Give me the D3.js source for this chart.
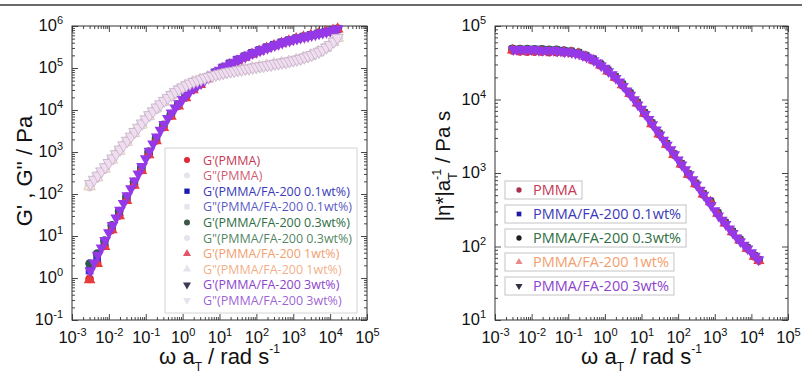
<!DOCTYPE html>
<html>
<head>
<meta charset="utf-8">
<script src="https://d3js.org/d3.v7.min.js"></script>
<style>
  body { margin: 0; background: #fff; }
  svg { display: block; font-family: "Liberation Sans", Arial, sans-serif; }
</style>
</head>
<body>
<script>
// reduced angular frequency  ω a_T  (rad/s)
// samples PMMA .. 1wt% were read on this grid
const omega = [0.0030, 0.0048, 0.0076, 0.012, 0.019, 0.030, 0.048, 0.076, 0.12, 0.19,
  0.30, 0.48, 0.76, 1.2, 1.9, 3.0, 4.8, 7.6, 12, 19,
  30, 48, 76, 120, 190, 300, 480, 760, 1200, 1900,
  3000, 4800, 7600, 12000, 16000];
// the 3wt% sample (drawn on top) was read more densely
const omegaFA3 = [0.00316, 0.00398, 0.00501, 0.00631, 0.00794, 0.0100, 0.0126, 0.0158, 0.0200, 0.0251,
  0.0316, 0.0398, 0.0501, 0.0631, 0.0794, 0.100, 0.126, 0.158, 0.200, 0.251,
  0.316, 0.398, 0.501, 0.631, 0.794, 1.00, 1.26, 1.58, 2.00, 2.51,
  3.16, 3.98, 5.01, 6.31, 7.94, 10.0, 12.6, 15.8, 20.0, 25.1,
  31.6, 39.8, 50.1, 63.1, 79.4, 100, 126, 158, 200, 251,
  316, 398, 501, 631, 794, 1000, 1260, 1580, 2000, 2510,
  3160, 3980, 5010, 6310, 7940, 10000, 12600, 15800];

const sampleNames = ["PMMA", "PMMA/FA-200 0.1wt%", "PMMA/FA-200 0.3wt%", "PMMA/FA-200 1wt%", "PMMA/FA-200 3wt%"];

// storage modulus G' (Pa)
const gpPMMA = [0.95, 2.3, 5.8, 14, 31, 72, 165, 370, 880, 1900, 3900, 7300, 12600, 20000, 30500, 40500, 56000, 74000, 95000, 120000,
  148000, 178000, 214000, 252000, 296000, 340000, 390000, 440000, 495000, 545000, 598000, 655000, 718000, 788000, 845000];
const gpFA01 = [1.5, 3.1, 7.0, 16.5, 36, 81, 186, 410, 980, 2050, 4200, 7800, 13400, 21000, 32500, 43000, 60000, 79000, 103000, 129000,
  158000, 190000, 228000, 267000, 312000, 357000, 408000, 457000, 510000, 560000, 612000, 670000, 733000, 800000, 860000];
const gpFA03 = [2.2, 3.8, 7.8, 18, 39, 86, 195, 430, 1020, 2150, 4400, 8000, 13700, 21500, 32500, 43000, 59000, 78000, 101000, 126000,
  155000, 186000, 223000, 262000, 306000, 350000, 402000, 452000, 505000, 555000, 608000, 666000, 729000, 798000, 855000];
const gpFA1 = [0.9, 2.2, 5.6, 14, 30, 70, 160, 360, 860, 1850, 3800, 7100, 12300, 19500, 30000, 40000, 55500, 73000, 94000, 119000,
  147000, 177000, 213000, 251000, 295000, 339000, 389000, 439000, 494000, 544000, 597000, 654000, 717000, 787000, 843000];
const gpFA3 = [1.5, 2.3, 3.5, 5.2, 7.9, 12, 18, 27, 41, 60,
  91, 135, 204, 302, 457, 692, 1050, 1550, 2290, 3310,
  4570, 6310, 8510, 11200, 14100, 17800, 22400, 27500, 33100, 38000,
  43700, 51300, 58900, 67600, 77600, 89100, 100000, 112000, 126000, 138000,
  155000, 170000, 186000, 204000, 224000, 240000, 263000, 282000, 302000, 324000,
  347000, 372000, 398000, 427000, 447000, 479000, 501000, 525000, 550000, 575000,
  603000, 631000, 661000, 692000, 724000, 759000, 794000, 851000];

// loss modulus G'' (Pa)
const gppPMMA = [150, 245, 395, 650, 1060, 1730, 2810, 4480, 7120, 10850, 15600, 22200, 30000, 37800, 45500, 52300, 60000, 67300, 73800, 81000,
  86800, 93000, 99500, 106500, 114500, 122500, 131500, 140500, 154000, 173000, 199000, 239000, 300000, 414000, 520000];
const gppFA01 = [160, 258, 410, 668, 1090, 1770, 2870, 4560, 7230, 11000, 15800, 22400, 30300, 38200, 46000, 52800, 60600, 68000, 74600, 81800,
  87700, 94000, 100800, 108000, 116000, 124000, 133000, 142000, 156000, 175000, 201000, 241000, 304000, 420000, 528000];
const gppFA03 = [170, 268, 422, 682, 1110, 1790, 2900, 4590, 7260, 11050, 15850, 22450, 30250, 38100, 45800, 52600, 60400, 67700, 74200, 81400,
  87200, 93400, 100200, 107200, 115200, 123200, 132200, 141200, 155200, 174200, 200500, 240500, 302500, 418000, 526000];
const gppFA1 = [152, 248, 398, 655, 1065, 1735, 2820, 4490, 7130, 10870, 15620, 22220, 30020, 37820, 45520, 52320, 60020, 67320, 73820, 81020,
  86820, 93020, 99600, 106600, 114600, 122600, 131600, 140600, 154200, 173200, 199200, 239200, 300500, 415000, 521000];
const gppFA3 = [174, 219, 275, 347, 437, 550, 708, 891, 1150, 1450,
  1860, 2340, 3020, 3800, 4790, 6030, 7590, 9330, 11500, 13800,
  16600, 19500, 22900, 26900, 30900, 34700, 38900, 42700, 46800, 50100,
  53700, 57500, 61700, 64600, 69200, 72400, 75900, 79400, 83200, 85100,
  89100, 91200, 95500, 97700, 102000, 105000, 110000, 112000, 117000, 120000,
  126000, 129000, 135000, 138000, 145000, 151000, 158000, 166000, 178000, 191000,
  204000, 224000, 245000, 269000, 309000, 355000, 427000, 525000];

// complex viscosity |η*| a_T^-1 (Pa s)
const etaPMMA = [46500, 45000, 44500, 44500, 44500, 44000, 44000, 43500, 43000, 41500, 38000, 34000, 29000, 24200, 19800, 15600, 11900, 8850, 6420, 4650,
  3370, 2440, 1770, 1310, 950, 705, 511, 403, 281, 208, 157, 122, 94, 73, 64];
const etaFA01 = [48500, 48300, 48200, 48200, 48100, 47300, 47200, 46200, 45200, 43300, 39500, 35300, 30000, 25000, 20400, 16100, 12200, 9080, 6580, 4770,
  3450, 2500, 1810, 1340, 970, 720, 521, 410, 286, 212, 160, 124, 96, 75, 66];
const etaFA03 = [49000, 48800, 48600, 48500, 48400, 47700, 47600, 46600, 45600, 43700, 39900, 35700, 30400, 25300, 20600, 16300, 12400, 9200, 6650, 4820,
  3490, 2520, 1830, 1350, 980, 725, 525, 412, 288, 213, 161, 125, 97, 76, 66];
const etaFA1 = [46800, 45500, 45000, 45000, 45000, 44500, 44500, 44000, 43500, 41800, 38300, 34200, 29200, 24300, 19900, 15700, 11950, 8880, 6440, 4660,
  3380, 2445, 1775, 1315, 952, 706, 512, 404, 281, 208, 157, 122, 94, 73, 64];
const etaFA3 = [47900, 47900, 47900, 47900, 47900, 47900, 47900, 46800, 46800, 46800,
  46800, 46800, 45700, 45700, 44700, 44700, 43700, 42700, 41700, 39800,
  38000, 36300, 33900, 31600, 28800, 26900, 24000, 21900, 19500, 17400,
  15100, 13200, 11500, 10000, 8510, 7410, 6310, 5370, 4570, 3890,
  3310, 2820, 2400, 2090, 1780, 1510, 1290, 1120, 955, 813,
  692, 589, 501, 427, 363, 309, 263, 229, 200, 174,
  151, 132, 117, 105, 93, 83, 74, 66];

// tick exponents (decades)
const xTickExp = [-3, -2, -1, 0, 1, 2, 3, 4, 5];
const yTickExpL = [-1, 0, 1, 2, 3, 4, 5, 6];
const yTickExpR = [1, 2, 3, 4, 5];

const omegaAll = [omega, omega, omega, omega, omegaFA3];
const gpAll = [gpPMMA, gpFA01, gpFA03, gpFA1, gpFA3];
const gppAll = [gppPMMA, gppFA01, gppFA03, gppFA1, gppFA3];
const etaAll = [etaPMMA, etaFA01, etaFA03, etaFA1, etaFA3];

// look of each sample
const look = [
  { shape: d3.symbolCircle, rot: 0, mark: "#e02a2a", leg: "#e0283a", small: "#a83050", text: "#c63a55", faint: "#f4e2ea", edge: "#d6bcc8" },
  { shape: d3.symbolSquare, rot: 0, mark: "#3434d0", leg: "#1a1ab0", small: "#1c1ca8", text: "#3a3ab8", faint: "#e6e4f6", edge: "#c4c0dc" },
  { shape: d3.symbolCircle, rot: 0, mark: "#2c5a4c", leg: "#3c5648", small: "#1e1e1e", text: "#2f6e44", faint: "#e6eee8", edge: "#c2cfc6" },
  { shape: d3.symbolTriangle, rot: 0, mark: "#e83c3c", leg: "#e05868", small: "#e88a8a", text: "#f2a070", faint: "#f6e6e0", edge: "#dcc4bc" },
  { shape: d3.symbolTriangle, rot: 180, mark: "#9438e8", leg: "#3a3a50", small: "#303048", text: "#8c44cc", faint: "#f0def0", edge: "#c4b0c8" }
];

const W = 802, H = 373;
const svg = d3.select("body").append("svg").attr("width", W).attr("height", H);

svg.append("line").attr("x1", 0).attr("x2", W).attr("y1", 5).attr("y2", 5)
  .attr("stroke", "#6a6a6a").attr("stroke-width", 2);

const xL = d3.scaleLog().domain([1e-3, 1e5]).range([72, 367]);
const yL = d3.scaleLog().domain([1e-1, 1e6]).range([320, 26]);
const xR = d3.scaleLog().domain([1e-3, 1e5]).range([495, 788]);
const yR = d3.scaleLog().domain([1e1, 1e5]).range([320, 26]);

function isDecade(v) {
  const e = Math.log10(v);
  return Math.abs(e - Math.round(e)) < 1e-9;
}

function supLabels(sel) {
  sel.selectAll(".tick text").each(function (d) {
    const t = d3.select(this).text(null);
    t.append("tspan").text("10");
    t.append("tspan").attr("font-size", 11).attr("dy", -7).text(Math.round(Math.log10(d)));
  });
}

function frame(x, y, yExp) {
  const [x0, x1] = x.range();
  const [y0, y1] = y.range();
  const xMinor = x.ticks().filter(v => !isDecade(v));
  const yMinor = y.ticks().filter(v => !isDecade(v));
  const xMajor = xTickExp.map(e => Math.pow(10, e));
  const yMajor = yExp.map(e => Math.pow(10, e));
  const g = svg.append("g").attr("color", "#333");

  const put = (axis, tr) => {
    const a = g.append("g").attr("transform", tr).call(axis);
    a.select(".domain").remove();
    a.selectAll(".tick line").attr("stroke-width", 0.9);
    return a;
  };
  // minor ticks, inward on all four sides
  put(d3.axisBottom(x).tickValues(xMinor).tickSize(-3).tickFormat(""), `translate(0,${y0})`);
  put(d3.axisTop(x).tickValues(xMinor).tickSize(-3).tickFormat(""), `translate(0,${y1})`);
  put(d3.axisLeft(y).tickValues(yMinor).tickSize(-3).tickFormat(""), `translate(${x0},0)`);
  put(d3.axisRight(y).tickValues(yMinor).tickSize(-3).tickFormat(""), `translate(${x1},0)`);
  // major ticks
  const bx = put(d3.axisBottom(x).tickValues(xMajor).tickSize(-6).tickPadding(11), `translate(0,${y0})`);
  put(d3.axisTop(x).tickValues(xMajor).tickSize(-6).tickFormat(""), `translate(0,${y1})`);
  const ly = put(d3.axisLeft(y).tickValues(yMajor).tickSize(-6).tickPadding(9), `translate(${x0},0)`);
  put(d3.axisRight(y).tickValues(yMajor).tickSize(-6).tickFormat(""), `translate(${x1},0)`);

  [bx, ly].forEach(a => a.attr("font-size", 16.5).attr("font-family", "Liberation Sans, Arial, sans-serif")
    .selectAll(".tick text").attr("fill", "#111"));
  ly.selectAll(".tick text").attr("dy", "0.3em");
  supLabels(bx);
  supLabels(ly);

  g.append("rect").attr("x", x0).attr("y", y1).attr("width", x1 - x0).attr("height", y0 - y1)
    .attr("fill", "none").attr("stroke", "#333").attr("stroke-width", 1);
}

function marks(x, y, ws, vals, lk, size, fill, stroke) {
  const sym = d3.symbol().type(lk.shape).size(size);
  svg.append("g").selectAll("path")
    .data(ws.map((w, i) => [w, vals[i]]))
    .join("path")
    .attr("d", sym)
    .attr("transform", d => `translate(${x(d[0])},${y(d[1])}) rotate(${lk.rot})`)
    .attr("fill", fill)
    .attr("stroke", stroke)
    .attr("stroke-width", stroke === "none" ? 0 : 0.8);
}

// ---- left panel: G', G''
frame(xL, yL, yTickExpL);
sampleNames.forEach((n, i) => {
  marks(xL, yL, omegaAll[i], gpAll[i], look[i], 60, look[i].mark, "none");
  marks(xL, yL, omegaAll[i], gppAll[i], look[i], 60, look[i].faint, look[i].edge);
});

// ---- right panel: |η*|
frame(xR, yR, yTickExpR);
sampleNames.forEach((n, i) => {
  marks(xR, yR, omegaAll[i], etaAll[i], look[i], 55, look[i].mark, "none");
});

// ---- axis titles
const title = svg.append("g").attr("font-size", 22).attr("fill", "#111");

title.append("text").attr("transform", "translate(32,171) rotate(-90)").attr("text-anchor", "middle")
  .text("G' , G'' / Pa");

const ry = title.append("text").attr("transform", "translate(450,166) rotate(-90)").attr("text-anchor", "middle")
  .attr("font-size", 20.5);
ry.append("tspan").text("|\u03B7*|a");
ry.append("tspan").attr("font-size", 12.5).attr("dy", 7).text("T");
ry.append("tspan").attr("font-size", 12.5).attr("dx", -7).attr("dy", -16).text("-1");
ry.append("tspan").attr("dy", 9).text(" / Pa s");

[219.5, 641.5].forEach(cx => {
  const t = title.append("text").attr("x", cx).attr("y", 364).attr("text-anchor", "middle");
  t.append("tspan").text("\u03C9  a");
  t.append("tspan").attr("font-size", 12).attr("dy", 7).text("T");
  t.append("tspan").attr("dy", -7).text(" / rad s");
  t.append("tspan").attr("font-size", 12).attr("dy", -11).text("-1");
});

// ---- left legend
const lgL = svg.append("g").attr("font-family", "Open Sans, sans-serif").attr("font-size", 12.5);
lgL.append("rect").attr("x", 165).attr("y", 148).attr("width", 192).attr("height", 165)
  .attr("fill", "#fff").attr("stroke", "#d4d4d4");
sampleNames.forEach((n, i) => {
  const rows = [
    { txt: `G'(${n})`, fill: look[i].leg },
    { txt: `G"(${n})`, fill: "#e6e2ee" }
  ];
  rows.forEach((r, k) => {
    const yy = 160 + (2 * i + k) * 15.6;
    lgL.append("path").attr("d", d3.symbol().type(look[i].shape).size(28))
      .attr("transform", `translate(187,${yy}) rotate(${look[i].rot})`).attr("fill", r.fill);
    lgL.append("text").attr("x", 203).attr("y", yy).attr("dy", "0.36em")
      .attr("fill", look[i].text).attr("fill-opacity", k ? 0.85 : 1).text(r.txt);
  });
});

// ---- right legend (one box per sample)
const lgR = svg.append("g").attr("font-family", "Open Sans, sans-serif").attr("font-size", 14.5);
sampleNames.forEach((n, i) => {
  const top = 181 + i * 24;
  const box = lgR.append("rect").attr("x", 505).attr("y", top).attr("height", 18)
    .attr("fill", "#fff").attr("stroke", "#c4c4c4");
  lgR.append("path").attr("d", d3.symbol().type(look[i].shape).size(22))
    .attr("transform", `translate(519,${top + 9}) rotate(${look[i].rot})`).attr("fill", look[i].small);
  const t = lgR.append("text").attr("x", 533).attr("y", top + 9).attr("dy", "0.36em")
    .attr("fill", look[i].text).text(n);
  box.attr("width", t.node().getComputedTextLength() + 33);
});
</script>
</body>
</html>
